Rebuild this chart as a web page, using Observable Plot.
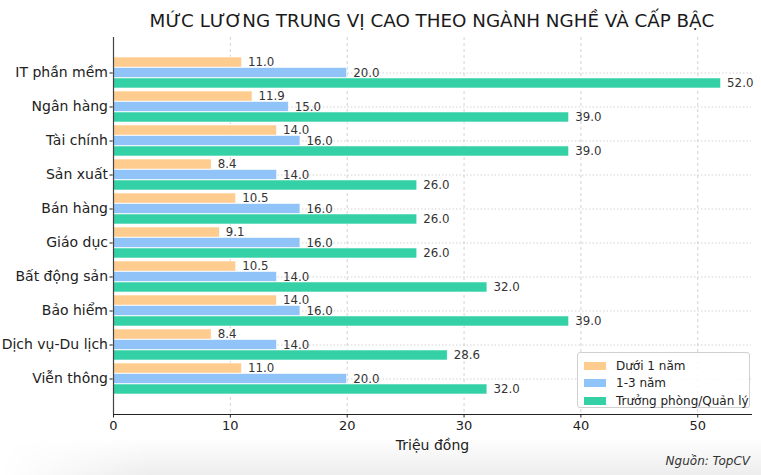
<!DOCTYPE html>
<html>
<head>
<meta charset="utf-8">
<script src="https://cdn.jsdelivr.net/npm/d3@7"></script>
<script src="https://cdn.jsdelivr.net/npm/@observablehq/plot@0.6"></script>
<style>
  html, body { margin: 0; padding: 0; background: #fff; }
  body { width: 761px; height: 475px; position: relative; overflow: hidden; font-family: "DejaVu Sans", sans-serif; }
  #title { box-sizing: border-box; height: 37px; padding: 9px 10px 0 113px; text-align: center; font-size: 18.3px; line-height: 24px; color: #1a1a1a; white-space: nowrap; }
  #chart { position: relative; }
  #legend { position: absolute; left: 577px; top: 352px; width: 173px; height: 56px; box-sizing: border-box; border: 1px solid #d0d0d0; border-radius: 3px; background: rgba(255,255,255,0.85); padding: 4px 0 0 6px; font-size: 12px; color: #222; }
  .row { height: 17.5px; display: flex; align-items: center; }
  .sw { width: 22px; height: 8px; margin-right: 10px; }
  #caption { position: absolute; right: 11px; top: 454px; font-size: 12px; font-style: italic; color: #333; }
  #shade { position: absolute; left: 0; right: 0; top: 438px; height: 37px; background: linear-gradient(to bottom, rgba(0,0,0,0), rgba(0,0,0,0.07)); -webkit-mask-image: linear-gradient(to right, transparent 0px, black 150px); mask-image: linear-gradient(to right, transparent 0px, black 150px); pointer-events: none; }
  #chart svg [aria-label="y-axis tick label"] text, #chart svg [aria-label="y-axis"] text { font-size: 14px; }
</style>
</head>
<body>
<div id="shade"></div>
<div id="title">MỨC LƯƠNG TRUNG VỊ CAO THEO NGÀNH NGHỀ VÀ CẤP BẬC</div>
<div id="chart"></div>
<div id="legend"></div>
<div id="caption">Nguồn: TopCV</div>
<script>
const categories = ["IT phần mềm", "Ngân hàng", "Tài chính", "Sản xuất", "Bán hàng", "Giáo dục", "Bất động sản", "Bảo hiểm", "Dịch vụ-Du lịch", "Viễn thông"];
const seriesNames = ["Dưới 1 năm", "1-3 năm", "Trưởng phòng/Quản lý"];
const under1 = [11.0, 11.9, 14.0, 8.4, 10.5, 9.1, 10.5, 14.0, 8.4, 11.0];
const oneToThree = [20.0, 15.0, 16.0, 14.0, 16.0, 16.0, 14.0, 16.0, 14.0, 20.0];
const manager = [52.0, 39.0, 39.0, 26.0, 26.0, 26.0, 32.0, 39.0, 28.6, 32.0];
const xTicks = [0, 10, 20, 30, 40, 50];
const colors = ["#ffcc8f", "#90c4f8", "#33d1a5"];
const xLabel = "Triệu đồng";

const seriesValues = [under1, oneToThree, manager];

const plotH = 377, padIn = 0.1, padOut = 0.445;
const step = plotH / (categories.length - padIn + 2 * padOut);
const bw = step * (1 - padIn);
const sub = bw / 3;

const marks = [
  Plot.ruleX(xTicks.filter(t => t > 0), {x: d => d, stroke: "#c8c8c8", strokeDasharray: "3,3", strokeWidth: 0.8}),
  Plot.ruleY(categories, {y: d => d, stroke: "#c8c8c8", strokeDasharray: "1.5,2", strokeWidth: 0.8})
];

seriesValues.forEach((vals, i) => {
  const rows = categories.map((c, j) => ({cat: c, value: vals[j]}));
  marks.push(Plot.barX(rows, {
    y: "cat", x1: 0, x2: "value", fill: colors[i],
    insetTop: i * sub, insetBottom: (2 - i) * sub,
    stroke: "white", strokeWidth: 0.6
  }));
  marks.push(Plot.text(rows, {
    y: "cat", x: "value", text: d => d.value.toFixed(1),
    dx: 6, dy: (i - 1) * sub, textAnchor: "start",
    fill: "#333", fontSize: 11.8
  }));
});

marks.push(Plot.ruleX([0], {stroke: "#444", strokeWidth: 1.2}));
marks.push(Plot.text([xLabel], {text: d => d, frameAnchor: "bottom", lineAnchor: "middle", dy: 31, fontSize: 14, fill: "#222"}));

const chart = Plot.plot({
  width: 761,
  height: 425,
  marginTop: 0,
  marginBottom: 48,
  marginLeft: 113,
  marginRight: 10,
  style: {fontFamily: "DejaVu Sans, sans-serif", fontSize: "13px", color: "#222", background: "transparent", overflow: "visible"},
  x: {domain: [0, 54.6], ticks: xTicks, tickFormat: d => d, tickSize: 3.5, tickPadding: 2.5, label: null, line: true},
  y: {domain: categories, paddingInner: padIn, paddingOuter: padOut, tickSize: 3.5, tickPadding: 2, label: null},
  marks
});
document.getElementById("chart").appendChild(chart);

const legend = d3.select("#legend");
seriesNames.forEach((name, i) => {
  const row = legend.append("div").attr("class", "row");
  row.append("div").attr("class", "sw").style("background", colors[i]);
  row.append("span").text(name);
});
</script>
</body>
</html>
